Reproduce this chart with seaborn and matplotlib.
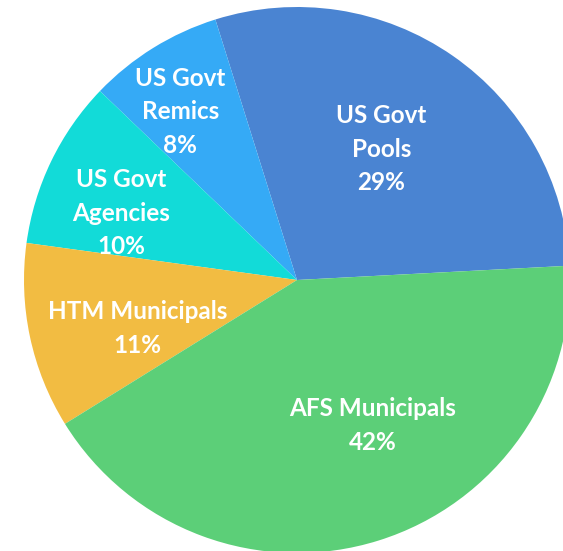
import matplotlib
matplotlib.use("Agg")
import matplotlib.pyplot as plt
import numpy as np
import seaborn as sns

# Portfolio composition (percent of total)
categories = ["US Govt\nPools", "US Govt\nRemics", "US Govt\nAgencies", "HTM Municipals", "AFS Municipals"]
shares = [29, 8, 10, 11, 42]
colors = ["#4a84d2", "#35aaf6", "#12dbd8", "#f2bc42", "#5ccf78"]

# Radial placement of each label (fraction of radius) and angular nudge (deg)
label_radius = [0.57, 0.75, 0.69, 0.61, 0.60]
label_nudge = [2, 3, 5, 5, 10]

sns.set_theme(style="white")
plt.rcParams["font.family"] = ["Lato", "DejaVu Sans"]

fig = plt.figure(figsize=(5.63, 5.51), dpi=100)
ax = fig.add_axes([0, 0, 1, 1])
palette = sns.color_palette(colors)

wedges, _ = ax.pie(shares, colors=palette, startangle=3, counterclock=True,
                   radius=1.0, center=(0, 0),
                   wedgeprops=dict(linewidth=0, edgecolor="none"))

for w, name, val, r, nd in zip(wedges, categories, shares, label_radius, label_nudge):
    mid = np.deg2rad((w.theta1 + w.theta2) / 2 + nd)
    ax.text(r * np.cos(mid), r * np.sin(mid), f"{name}\n{val}%",
            ha="center", va="center", color="white", fontsize=17.5,
            fontweight="bold", linespacing=1.55)

R = 273.0
cx, cy = 297.0, 280.0
ax.set_xlim(-cx / R, (563 - cx) / R)
ax.set_ylim(-(551 - cy) / R, cy / R)
ax.axis("off")

fig.savefig("out.png", dpi=100, facecolor="white")
